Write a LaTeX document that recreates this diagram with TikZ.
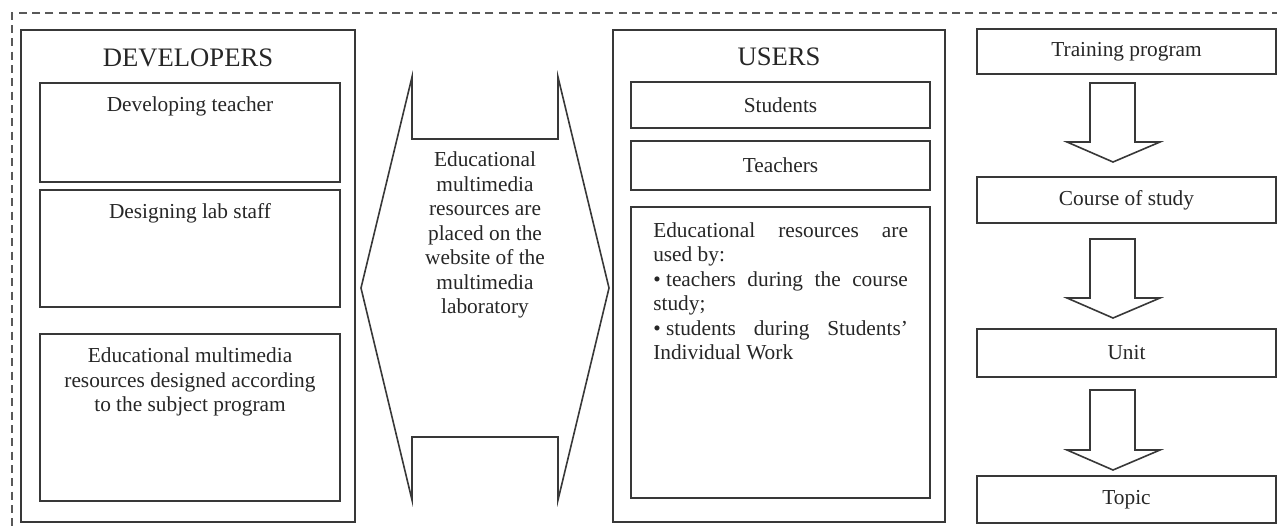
\documentclass[tikz,border=0pt]{standalone}
\usepackage{fontspec}
\setmainfont{Liberation Serif}
\usetikzlibrary{fit}
\definecolor{linec}{gray}{0.22}
\definecolor{textc}{gray}{0.15}
\definecolor{dashc}{gray}{0.35}
\begin{document}
\begin{tikzpicture}[x=0.75pt,y=-0.75pt,
  box/.style={draw=linec, line width=1.2pt, inner sep=0pt, outer sep=0pt},
  txt/.style={text=textc, font=\fontsize{16}{18.4}\selectfont, inner sep=0pt},
  head/.style={text=textc, font=\fontsize{20}{24}\selectfont, inner sep=0pt},
  blk/.style={draw=linec, line width=1.2pt, line join=miter},
  frame/.style={draw=dashc, line width=0.9pt, dash pattern=on 6pt off 4pt}]
\useasboundingbox (0,0) rectangle (1277,529);
% dashed outer frame
\draw[frame] (1280,13) -- (12,13) -- (12,532);
% developers
\node[box, fit={(21,30)(355,522)}] (dev) {};
\node[head] (devt) at (188,58) {DEVELOPERS};
\node[box, fit={(40,83)(340,182)}] (d1) {};
\node[txt] (d1t) at (190,106) {Developing teacher};
\node[box, fit={(40,190)(340,307)}] (d2) {};
\node[txt] (d2t) at (190,213) {Designing lab staff};
\node[box, fit={(40,334)(340,501)}] (d3) {};
\node[txt, align=center] (d3t) at (190,382) {Educational multimedia\\resources designed according\\to the subject program};
% middle double arrow
\draw[blk] (412,77) -- (412,139) -- (558,139) -- (558,77) -- (609,288) -- (558,500)
  -- (558,437) -- (412,437) -- (412,500) -- (361,288) -- cycle;
\node[txt, align=center] (mid) at (485,235) {Educational\\multimedia\\resources are\\placed on the\\website of the\\multimedia\\laboratory};
% users
\node[box, fit={(613,30)(945,522)}] (users) {};
\node[head] (ust) at (779,57) {USERS};
\node[box, fit={(631,82)(930,128)}] (stu) {};
\node[txt] (stut) at (stu.center) {Students};
\node[box, fit={(631,141)(930,190)}] (tea) {};
\node[txt] (teat) at (tea.center) {Teachers};
\node[box, fit={(631,207)(930,498)}] (use) {};
\node[txt, align=left, anchor=north west] (uset) at (653,222) {%
\hbox to 191pt{Educational\hfill resources\hfill are}\\
used by:\\
\hbox to 191pt{• teachers\hfill during\hfill the\hfill course}\\
study;\\
\hbox to 191pt{• students\hfill during\hfill Students’}\\
Individual Work};
% right column
\node[box, fit={(977,29)(1276,74)}] (tp) {};
\node[txt] (tpt) at (tp.center) {Training program};
\node[box, fit={(977,177)(1276,223)}] (cs) {};
\node[txt] (cst) at (cs.center) {Course of study};
\node[box, fit={(977,329)(1276,377)}] (un) {};
\node[txt] (unt) at (un.center) {Unit};
\node[box, fit={(977,476)(1276,523)}] (tc) {};
\node[txt] (tct) at (tc.center) {Topic};
% block arrows
\draw[blk] (1090,83) -- (1135,83) -- (1135,142) -- (1160,142) -- (1113,162) -- (1067,142) -- (1090,142) -- cycle;
\draw[blk] (1090,239) -- (1135,239) -- (1135,298) -- (1160,298) -- (1113,318) -- (1067,298) -- (1090,298) -- cycle;
\draw[blk] (1090,390) -- (1135,390) -- (1135,450) -- (1160,450) -- (1113,470) -- (1067,450) -- (1090,450) -- cycle;
\end{tikzpicture}
\end{document}
